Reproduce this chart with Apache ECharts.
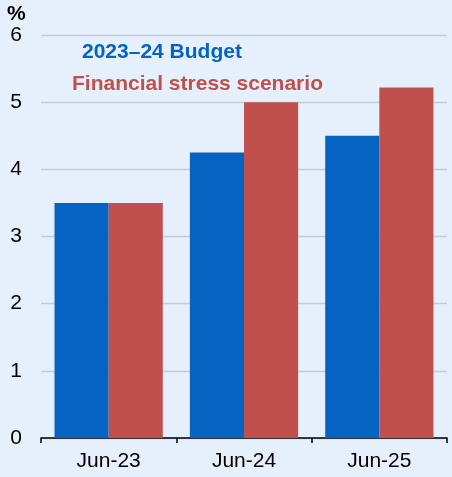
<!DOCTYPE html>
<html>
<head>
<meta charset="utf-8">
<script src="https://cdn.jsdelivr.net/npm/echarts@6/dist/echarts.min.js"></script>
<style>
  html, body { margin: 0; padding: 0; background: #e6f0fc; }
  #chart { width: 452px; height: 477px; }
</style>
</head>
<body>
<div id="chart"></div>
<script>
// Categories and series values (%)
const categories = ['Jun-23', 'Jun-24', 'Jun-25'];
const budgetValues = [3.5, 4.25, 4.5];
const stressValues = [3.5, 5.0, 5.22];
const budgetName = '2023–24 Budget';
const stressName = 'Financial stress scenario';
const yTicks = [0, 1, 2, 3, 4, 5, 6];

const BLUE = '#0563c1';
const RED = '#c0504d';
const FONT = '"Liberation Sans", Arial, sans-serif';

const chart = echarts.init(document.getElementById('chart'));
chart.setOption({
  backgroundColor: '#e6f0fc',
  animation: false,
  grid: { left: 41, right: 5, top: 35, bottom: 39, containLabel: false },
  graphic: [
    { type: 'text', left: 7, top: 4, style: { text: '%', font: 'bold 21px ' + FONT, fill: '#000' } },
    { type: 'text', left: 82, top: 42, style: { text: budgetName, font: 'bold 21px ' + FONT, fill: BLUE } },
    { type: 'text', left: 72, top: 74, style: { text: stressName, font: 'bold 21px ' + FONT, fill: RED } }
  ],
  xAxis: {
    type: 'category',
    data: categories,
    axisLine: { show: true, lineStyle: { color: '#000', width: 1.5 } },
    axisTick: { show: true, alignWithLabel: false, length: 5, lineStyle: { color: '#000', width: 1.5 } },
    axisLabel: { color: '#000', fontSize: 21, fontFamily: FONT, margin: 13 },
    splitLine: { show: false }
  },
  yAxis: {
    type: 'value',
    min: yTicks[0],
    max: yTicks[yTicks.length - 1],
    interval: 1,
    axisLine: { show: false },
    axisTick: { show: false },
    axisLabel: { color: '#000', fontSize: 21, fontFamily: FONT, margin: 19 },
    splitLine: { show: true, lineStyle: { color: '#c3ccd8', width: 1.3 } }
  },
  series: [
    {
      name: budgetName,
      type: 'bar',
      data: budgetValues,
      itemStyle: { color: BLUE },
      barGap: '0%',
      barCategoryGap: '20%'
    },
    {
      name: stressName,
      type: 'bar',
      data: stressValues,
      itemStyle: { color: RED },
      barGap: '0%',
      barCategoryGap: '20%'
    }
  ]
});
</script>
</body>
</html>
